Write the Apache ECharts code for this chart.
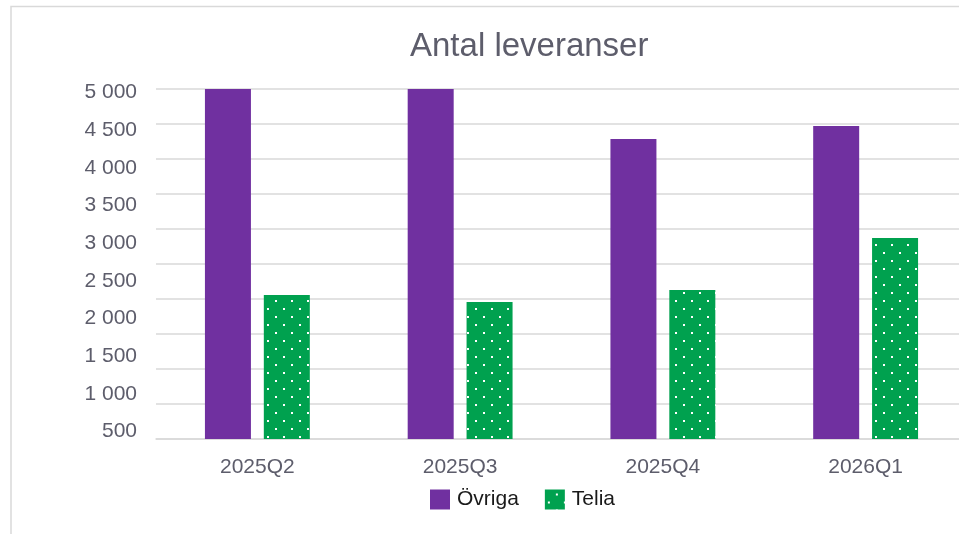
<!DOCTYPE html>
<html>
<head>
<meta charset="utf-8">
<script src="https://cdn.jsdelivr.net/npm/echarts@6/dist/echarts.min.js"></script>
<style>
  html, body { margin: 0; padding: 0; background: #fff; }
  #chart { width: 959px; height: 534px; }
</style>
</head>
<body>
<div id="chart"></div>
<script>
const quarters = ["2025Q2", "2025Q3", "2025Q4", "2026Q1"];
const ovriga = [5000, 5000, 4286, 4471];
const telia = [2057, 1957, 2129, 2871];
// gridlines: 0..5000 every 500; the printed labels run 500..5000 and sit a bit off the lines
const gridTicks = { min: 0, max: 5000, step: 500 };
const labelTicks = { min: 500, max: 5000, step: 500 };

// green with small white dots, like the Excel fill
function dotPattern() {
  const c = document.createElement("canvas");
  c.width = 16;
  c.height = 16;
  const ctx = c.getContext("2d");
  ctx.fillStyle = "#00a14f";
  ctx.fillRect(0, 0, 16, 16);
  ctx.fillStyle = "#ffffff";
  ctx.fillRect(3, 12, 2, 2);
  ctx.fillRect(11, 4, 2, 2);
  return c;
}

const fmt = v => String(v).replace(/\B(?=(\d{3})+(?!\d))/g, " ");
const grey = "#5d5d6b";
const font = "Liberation Sans";

const chart = echarts.init(document.getElementById("chart"));
chart.setOption({
  animation: false,
  title: {
    text: "Antal leveranser",
    left: 405,
    top: 25,
    textStyle: { fontFamily: font, fontSize: 33, fontWeight: "normal", color: grey }
  },
  legend: {
    left: 430,
    top: 489,
    padding: 0,
    itemWidth: 20,
    itemHeight: 20,
    itemGap: 26,
    icon: "rect",
    textStyle: { fontFamily: font, fontSize: 21, color: "#1a1a1a", padding: [0, 0, 0, 2] },
    data: ["Övriga", "Telia"]
  },
  grid: [
    { left: 156, width: 811, top: 89, height: 350, outerBoundsMode: "none" },
    { left: 156, width: 811, top: 92.5, height: 339, outerBoundsMode: "none" }
  ],
  xAxis: [
    {
      type: "category",
      gridIndex: 0,
      data: quarters,
      axisLine: { lineStyle: { color: "#d9d9d9", width: 1.5 } },
      axisTick: { show: false },
      axisLabel: { fontFamily: font, fontSize: 21, color: grey, margin: 18 }
    },
    { type: "category", gridIndex: 1, data: quarters, show: false }
  ],
  yAxis: [
    {
      type: "value",
      gridIndex: 0,
      min: gridTicks.min,
      max: gridTicks.max,
      interval: gridTicks.step,
      axisLine: { show: false },
      axisTick: { show: false },
      axisLabel: { show: false },
      splitLine: { lineStyle: { color: "#d9d9d9", width: 1.5 } }
    },
    {
      type: "value",
      gridIndex: 1,
      min: labelTicks.min,
      max: labelTicks.max,
      interval: labelTicks.step,
      axisLine: { show: false },
      axisTick: { show: false },
      splitLine: { show: false },
      axisLabel: { fontFamily: font, fontSize: 21, color: grey, margin: 19, formatter: fmt }
    }
  ],
  series: [
    {
      name: "Övriga",
      type: "bar",
      xAxisIndex: 0,
      yAxisIndex: 0,
      data: ovriga,
      barWidth: 46,
      barGap: "28%",
      itemStyle: { color: "#7030a0" }
    },
    {
      name: "Telia",
      type: "bar",
      xAxisIndex: 0,
      yAxisIndex: 0,
      data: telia,
      barWidth: 46,
      itemStyle: { color: { image: dotPattern(), repeat: "repeat" } }
    }
  ],
  graphic: [
    {
      type: "rect",
      silent: true,
      shape: { x: 11, y: 6.5, width: 2000, height: 2000 },
      style: { fill: "none", stroke: "#d9d9d9", lineWidth: 1.5 }
    }
  ]
});
</script>
</body>
</html>
